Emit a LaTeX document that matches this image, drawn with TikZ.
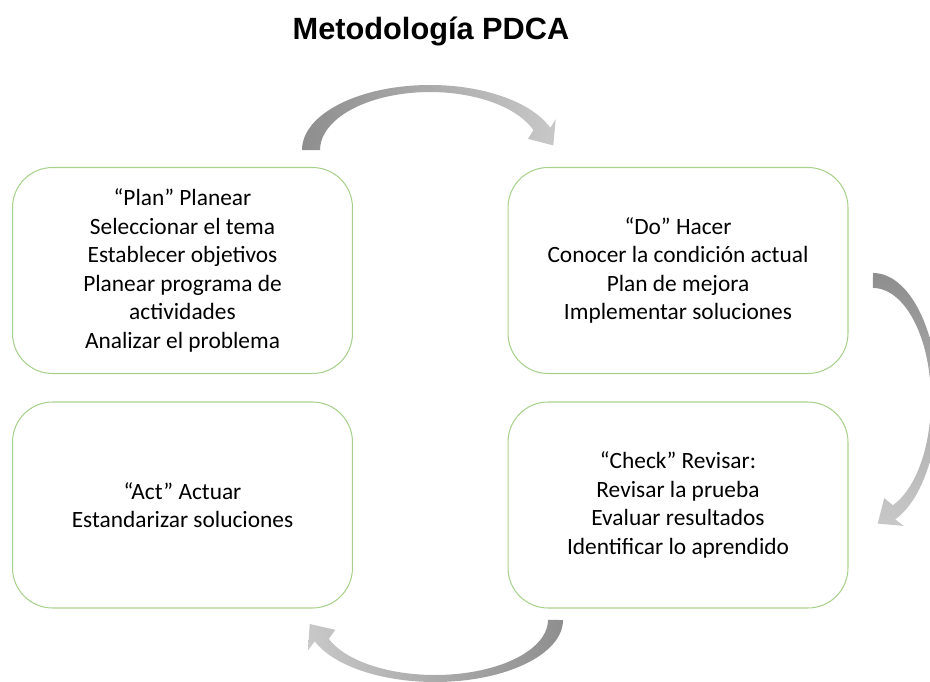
\documentclass[tikz,border=0pt]{standalone}
\usepackage{fontspec}
\setmainfont{Carlito}
\newfontfamily\titlefont{Liberation Sans}
\definecolor{boxgreen}{HTML}{A9D18E}
\definecolor{arrowdark}{HTML}{8E8E8E}
\definecolor{arrowlight}{HTML}{C8C8C8}
\tikzset{
  % the four rounded boxes of the cycle
  fase/.style={draw=boxgreen,line width=0.6pt,rounded corners=0.8cm,
    minimum width=6.8cm,minimum height=4.12cm,align=center,
    font=\fontsize{13.3}{16.2}\selectfont},
}
\begin{document}
\begin{tikzpicture}[x=0.02cm,y=0.02cm,yscale=-1]
\useasboundingbox (0,0) rectangle (930,682);
\clip (0,0) rectangle (930,682);
\node[anchor=base,font=\titlefont\bfseries\fontsize{17.5}{20}\selectfont] (titulo) at (431,40) {Metodología PDCA};
\node[fase] (plan) at (182.5,270.5) {“Plan” Planear\\Seleccionar el tema\\Establecer objetivos\\Planear programa de\\actividades\\Analizar el problema};
\node[fase] (do) at (678,270.5) {“Do” Hacer\\Conocer la condición actual\\Plan de mejora\\Implementar soluciones};
\node[fase] (act) at (182.5,505) {“Act” Actuar\\Estandarizar soluciones};
\node[fase] (check) at (678,505) {“Check” Revisar:\\Revisar la prueba\\Evaluar resultados\\Identificar lo aprendido};
% plan -> do
\shade[left color=arrowdark,right color=arrowlight]
  (302,150) arc[start angle=180,end angle=340,x radius=128,y radius=65]
  -- (555.7,119.2) -- (553.3,145.4) -- (527.9,138.8) -- (533.4,130.2)
  arc[start angle=340,end angle=180,x radius=110,y radius=58] -- cycle;
% do -> check
\shade[top color=arrowdark,bottom color=arrowlight]
  (873,273) arc[start angle=270,end angle=430,x radius=65,y radius=127]
  -- (903.8,525.9) -- (877.7,523.6) -- (884.2,498.1) -- (892.8,505.2)
  arc[start angle=430,end angle=270,x radius=58,y radius=112] -- cycle;
% check -> act
\shade[right color=arrowdark,left color=arrowlight]
  (563,620) arc[start angle=0,end angle=160,x radius=128,y radius=62]
  -- (308.1,650.2) -- (309.7,624) -- (335.3,629.8) -- (328.8,638.8)
  arc[start angle=160,end angle=0,x radius=113,y radius=55] -- cycle;
\end{tikzpicture}
\end{document}
